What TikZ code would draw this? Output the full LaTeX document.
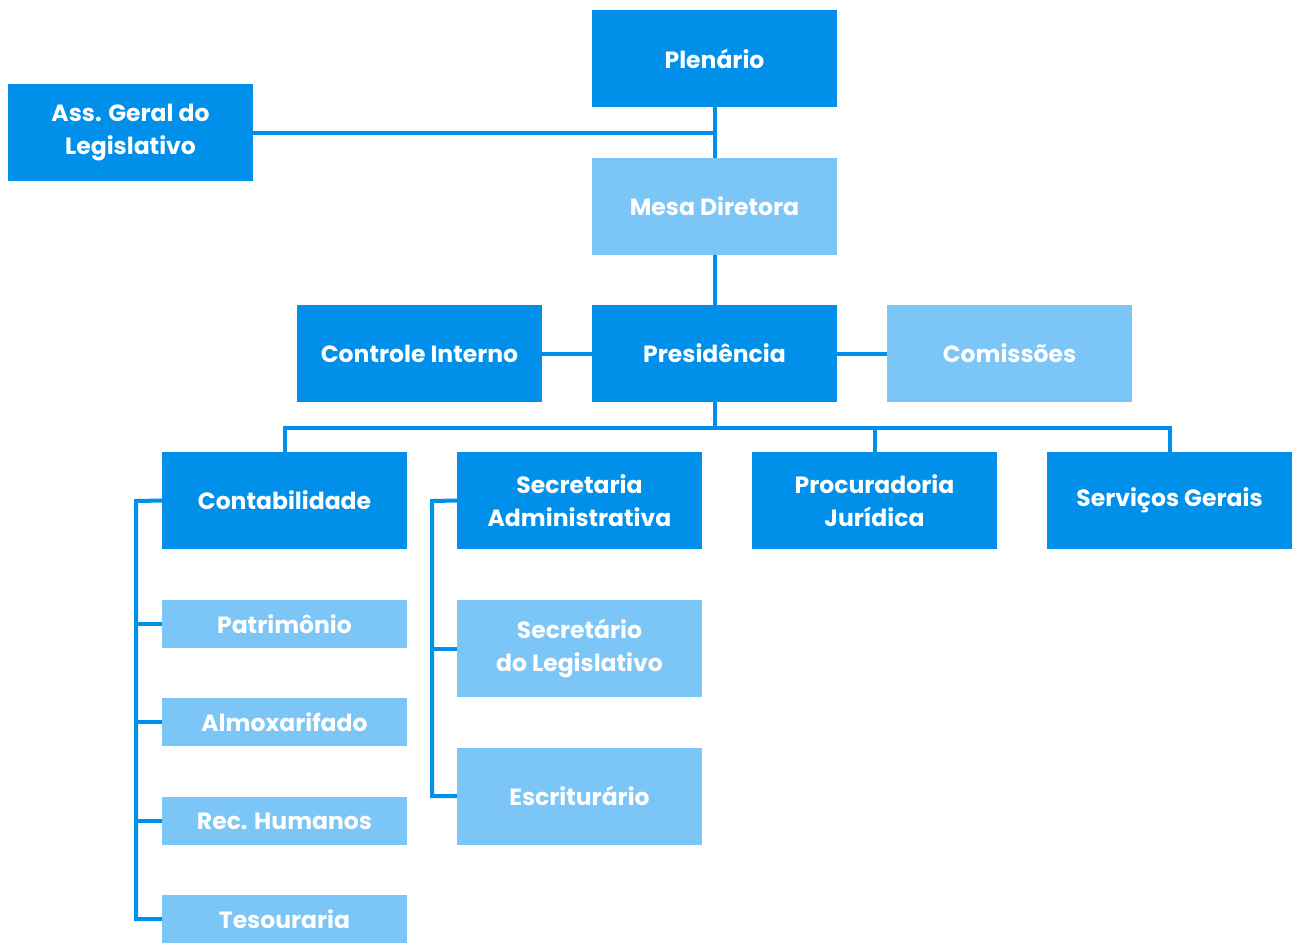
\documentclass[tikz,border=0pt]{standalone}
\usepackage{fontspec}
\setmainfont{Poppins}
\definecolor{dk}{HTML}{0090E9}
\definecolor{lt}{HTML}{7BC6F7}
\begin{document}
\begin{tikzpicture}[x=1pt,y=-1pt,
  box/.style={minimum width=245pt,minimum height=97pt,inner sep=0pt,outer sep=0pt,
    text=white,font=\fontsize{23.5}{33}\selectfont\bfseries,align=center},
  dbox/.style={box,fill=dk},
  lbox/.style={box,fill=lt},
  sbox/.style={lbox,minimum height=48pt},
  conn/.style={draw=dk,line width=4pt}]
\useasboundingbox (0,0) rectangle (1293,943);
\node[dbox] (plen) at (714.5,58.5) {Plenário};
\node[dbox] (ass) at (130.5,132.5) {Ass. Geral do\\Legislativo};
\node[lbox] (mesa) at (714.5,206.5) {Mesa Diretora};
\node[dbox] (ctrl) at (419.5,353.5) {Controle Interno};
\node[dbox] (pres) at (714.5,353.5) {Presidência};
\node[lbox] (com) at (1009.5,353.5) {Comissões};
\node[dbox] (cont) at (284.5,500.5) {Contabilidade};
\node[dbox] (sec) at (579.5,500.5) {Secretaria\\Administrativa};
\node[dbox] (proc) at (874.5,500.5) {Procuradoria\\Jurídica};
\node[dbox] (serv) at (1169.5,500.5) {Serviços Gerais};
\node[sbox] (pat) at (284.5,624) {Patrimônio};
\node[sbox] (alm) at (284.5,722) {Almoxarifado};
\node[sbox] (rec) at (284.5,821) {Rec. Humanos};
\node[sbox] (tes) at (284.5,919) {Tesouraria};
\node[lbox] (sleg) at (579.5,648.5) {Secretário\\do Legislativo};
\node[lbox] (esc) at (579.5,796) {Escriturário};
\coordinate (busy) at (714.5,428);
\coordinate (ltree) at (136,501);
\coordinate (stree) at (432,501);
\begin{scope}[on background layer/.try]
\draw[conn] (plen.south) -- (mesa.north);
\draw[conn] (ass.east) -- (ass.east -| plen.south);
\draw[conn] (mesa.south) -- (pres.north);
\draw[conn] (ctrl.east) -- (pres.west);
\draw[conn] (pres.east) -- (com.west);
\draw[conn] (pres.south) -- (busy);
\draw[conn] (cont.north) |- (busy) -| (serv.north);
\draw[conn] (proc.north) -- (proc.north |- busy);
\draw[conn] (cont.west) -- (ltree) |- (tes.west);
\draw[conn] (pat.west) -- (pat.west -| ltree);
\draw[conn] (alm.west) -- (alm.west -| ltree);
\draw[conn] (rec.west) -- (rec.west -| ltree);
\draw[conn] (sec.west) -- (stree) |- (esc.west);
\draw[conn] (sleg.west) -- (sleg.west -| stree);
\end{scope}
\end{tikzpicture}
\end{document}
